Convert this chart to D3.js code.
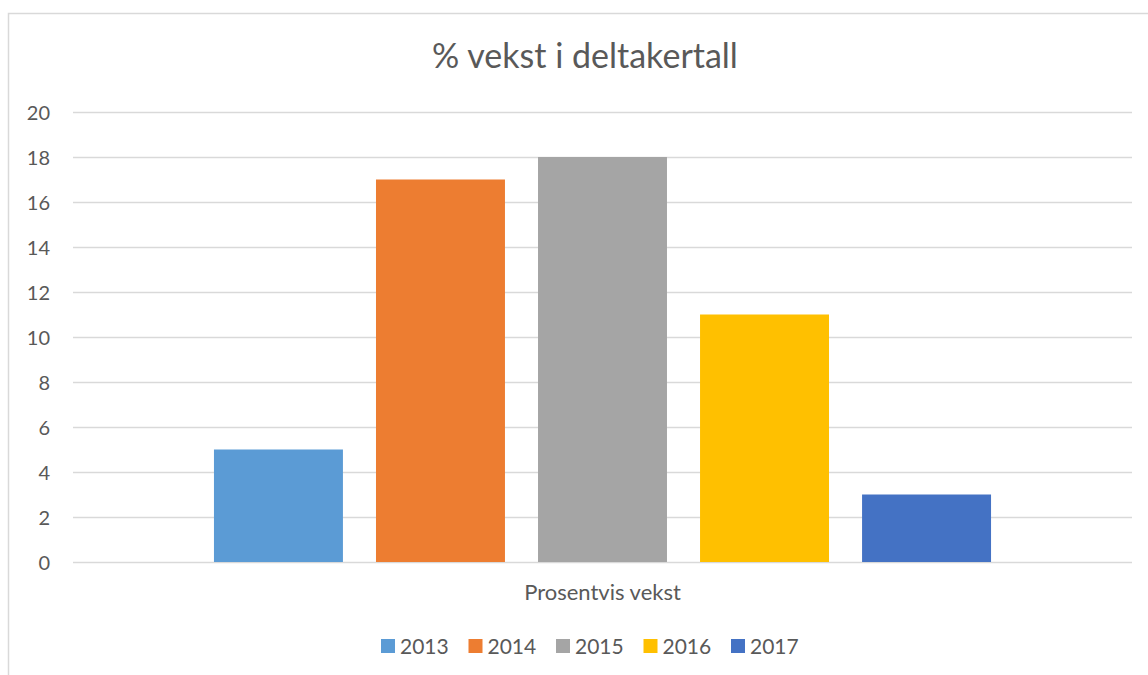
<!DOCTYPE html>
<html>
<head>
<meta charset="utf-8">
<script src="https://cdn.jsdelivr.net/npm/d3@7"></script>
<style>
  body { margin: 0; background: #fff; }
  text { font-family: Lato, "Liberation Sans", Arial, sans-serif; fill: #595959; }
</style>
</head>
<body>
<svg id="svg"></svg>
<script>
var categories = ["Prosentvis vekst"];
var years = ["2013", "2014", "2015", "2016", "2017"];
var values = [5, 17, 18, 11, 3];
var colors = ["#5b9bd5", "#ed7d31", "#a5a5a5", "#ffc000", "#4472c4"];
var yTicks = [0, 2, 4, 6, 8, 10, 12, 14, 16, 18, 20];
var title = "% vekst i deltakertall";

var W = 1148, H = 675;
var plot = {left: 73, right: 1132, top: 112, bottom: 562};

var svg = d3.select("#svg").attr("width", W).attr("height", H);

// chart border (right/bottom run off the picture)
svg.append("rect")
   .attr("x", 8.5).attr("y", 13.5)
   .attr("width", 1160).attr("height", 700)
   .attr("fill", "none").attr("stroke", "#d9d9d9").attr("stroke-width", 1.5);

svg.append("text")
   .attr("x", 585).attr("y", 68)
   .attr("text-anchor", "middle")
   .style("font-size", "34px")
   .text(title);

var y = d3.scaleLinear().domain([0, 20]).range([plot.bottom, plot.top]);

var x0 = d3.scaleBand().domain(categories).range([plot.left, plot.right]);
var x1 = d3.scaleBand().domain(years).range([0, x0.bandwidth()])
           .paddingInner(0.204).paddingOuter(0.87);

// gridlines
svg.append("g").selectAll("line").data(yTicks).join("line")
   .attr("x1", plot.left).attr("x2", plot.right)
   .attr("y1", d => y(d) + 0.5).attr("y2", d => y(d) + 0.5)
   .attr("stroke", "#d9d9d9").attr("stroke-width", 1.5);

// y axis labels
var yAxis = d3.axisLeft(y).tickValues(yTicks).tickSize(0).tickPadding(0);
var ya = svg.append("g").attr("transform", "translate(50,0)").call(yAxis);
ya.select(".domain").remove();
ya.attr("font-family", null).attr("font-size", null);
ya.selectAll("text").style("font-size", "20px").attr("fill", "#595959").attr("dy", "0.36em");

// bars
var g = svg.append("g").selectAll("g").data(categories).join("g")
   .attr("transform", d => "translate(" + x0(d) + ",0)");
g.selectAll("rect").data(years).join("rect")
   .attr("x", d => x1(d))
   .attr("width", x1.bandwidth())
   .attr("y", (d, i) => y(values[i]))
   .attr("height", (d, i) => y(0) - y(values[i]))
   .attr("fill", (d, i) => colors[i]);

// category label
svg.append("g").selectAll("text").data(categories).join("text")
   .attr("x", d => x0(d) + x0.bandwidth() / 2)
   .attr("y", 600)
   .attr("text-anchor", "middle")
   .style("font-size", "22px")
   .text(d => d);

// legend
var legend = svg.append("g").selectAll("g").data(years).join("g")
   .attr("transform", (d, i) => "translate(" + (381 + i * 87.5) + ",639)");
legend.append("rect").attr("width", 14).attr("height", 14)
   .attr("fill", (d, i) => colors[i]);
legend.append("text").attr("x", 19).attr("y", 14.5)
   .style("font-size", "21px")
   .text(d => d);
</script>
</body>
</html>
